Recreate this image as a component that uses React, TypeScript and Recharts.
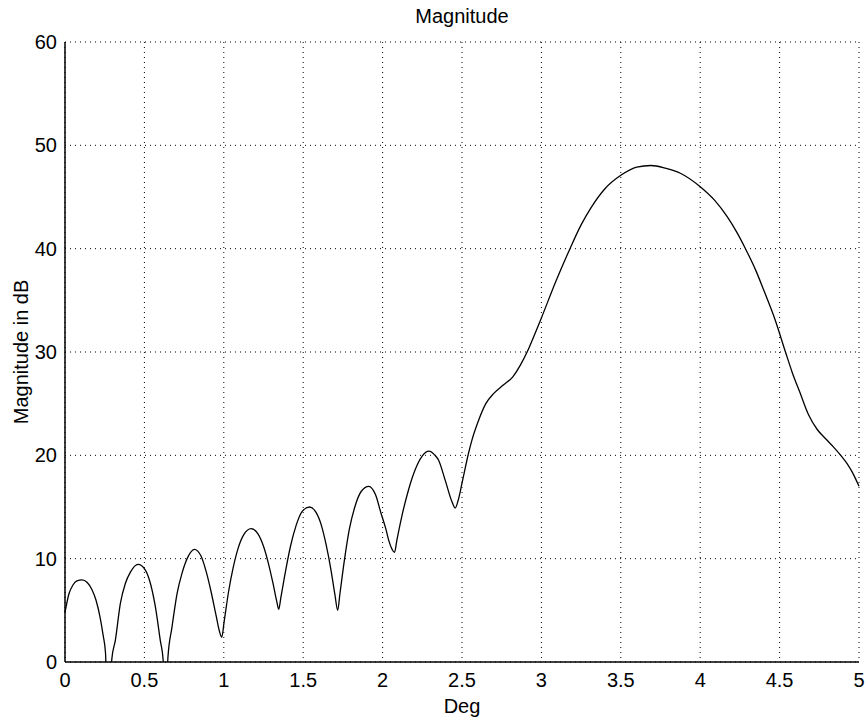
import { LineChart, Line, XAxis, YAxis, CartesianGrid, Label } from "recharts";

// angle in degrees
const degs = [
  0, 0.025, 0.05, 0.075, 0.107, 0.14, 0.17, 0.195, 0.22, 0.24, 0.255, 0.27,
  0.295, 0.317, 0.349, 0.38, 0.412, 0.46, 0.506, 0.538, 0.569, 0.6, 0.618, 0.632,
  0.648, 0.674, 0.706, 0.737, 0.775, 0.815, 0.855, 0.89, 0.92, 0.95, 0.972, 0.987,
  1.003, 1.03, 1.06, 1.09, 1.125, 1.172, 1.215, 1.25, 1.28, 1.31, 1.333, 1.346,
  1.36, 1.39, 1.42, 1.455, 1.495, 1.54, 1.58, 1.615, 1.645, 1.675, 1.7, 1.717,
  1.732, 1.76, 1.79, 1.825, 1.865, 1.913, 1.955, 1.99, 2.02, 2.04, 2.06, 2.075,
  2.09, 2.121, 2.163, 2.205, 2.248, 2.292, 2.33, 2.352, 2.394, 2.437, 2.457,
  2.475, 2.5, 2.541, 2.563, 2.6, 2.65, 2.7, 2.76, 2.82, 2.87, 2.91, 2.96, 3.0,
  3.09, 3.18, 3.25, 3.31, 3.4, 3.5, 3.6, 3.69, 3.78, 3.875, 4.0, 4.09, 4.17,
  4.23, 4.285, 4.35, 4.4, 4.47, 4.537, 4.58, 4.63, 4.68, 4.737, 4.79, 4.84,
  4.885, 4.925, 4.96, 5.0,
];

// magnitude in dB (nulls below 0 are clipped by the axis)
const magDb = [
  4.8, 6.6, 7.45, 7.85, 7.95, 7.7, 7.0, 6.0, 4.4, 2.6, 0.9, -6,
  0.3, 2.1, 5.7, 7.6, 8.7, 9.45, 8.9, 7.6, 5.35, 2.1, 0.2, -6,
  0.4, 3.4, 6.65, 8.6, 10.2, 10.9, 10.3, 8.7, 6.8, 4.6, 3.0, 2.4,
  4.0, 6.8, 9.2, 11.0, 12.3, 12.9, 12.4, 11.2, 9.6, 7.6, 5.9, 5.1,
  6.3, 8.9, 11.2, 13.2, 14.6, 15.0, 14.5, 13.2, 11.3, 8.9, 6.5, 5.0,
  6.7, 9.9, 12.8, 15.0, 16.5, 17.0, 16.2, 14.4, 12.9, 11.7, 10.9, 10.6,
  11.8, 14.1, 16.65, 18.6, 19.9, 20.4, 20.0, 19.55, 17.6, 15.5, 14.9,
  15.6, 17.3, 20.2, 21.5, 23.2, 25.0, 26.0, 26.8, 27.6, 28.8, 30.0, 31.8, 33.3,
  36.8, 40.0, 42.3, 43.9, 45.8, 47.1, 47.9, 48.05, 47.8, 47.3, 46.0, 44.7, 43.1,
  41.6, 40.0, 37.9, 36.0, 33.2, 30.0, 28.0, 26.0, 24.0, 22.5, 21.6, 20.8,
  20.0, 19.2, 18.3, 17.0,
];

const xTicks = [0, 0.5, 1, 1.5, 2, 2.5, 3, 3.5, 4, 4.5, 5];
const yTicks = [0, 10, 20, 30, 40, 50, 60];

const data = degs.map((d, i) => ({ deg: d, mag: magDb[i] }));

const font = "'Liberation Sans', Arial, Helvetica, sans-serif";
const tickStyle = { fontSize: 20, fill: "#000", fontFamily: font };

export default function App() {
  return (
    <div style={{ position: "absolute", left: 0, top: 0, width: 868, height: 721, background: "#fff", fontFamily: font }}>
      <div
        style={{
          position: "absolute",
          top: 6,
          left: 0,
          width: 924,
          textAlign: "center",
          fontSize: 20,
          lineHeight: "20px",
          color: "#000",
        }}
      >
        Magnitude
      </div>
      <LineChart width={868} height={721} data={data} margin={{ top: 42, right: 9, bottom: 0, left: 0 }}>
        <CartesianGrid stroke="#000" strokeDasharray="1 4" />
        <XAxis
          dataKey="deg"
          type="number"
          domain={[0, 5]}
          ticks={xTicks}
          height={59}
          tick={tickStyle}
          tickLine={false}
          tickMargin={5}
          axisLine={{ stroke: "#000", strokeWidth: 1.5 }}
        >
          <Label value="Deg" position="insideBottom" offset={8} style={{ fontSize: 20, fill: "#000", fontFamily: font }} />
        </XAxis>
        <XAxis
          xAxisId="top"
          orientation="top"
          type="number"
          domain={[0, 5]}
          height={0}
          tick={false}
          axisLine={{ stroke: "#000", strokeWidth: 1.5 }}
        />
        <YAxis
          type="number"
          domain={[0, 60]}
          ticks={yTicks}
          allowDataOverflow
          width={65}
          tick={tickStyle}
          tickLine={false}
          axisLine={{ stroke: "#000", strokeWidth: 1.5 }}
        >
          <Label
            value="Magnitude in dB"
            angle={-90}
            position="insideLeft"
            offset={21}
            style={{ fontSize: 20, fill: "#000", fontFamily: font, textAnchor: "middle" }}
          />
        </YAxis>
        <YAxis
          yAxisId="right"
          orientation="right"
          type="number"
          domain={[0, 60]}
          width={0}
          tick={false}
          axisLine={{ stroke: "#000", strokeWidth: 1.5 }}
        />
        <Line
          type="monotone"
          dataKey="mag"
          stroke="#000"
          strokeWidth={1.3}
          dot={false}
          activeDot={false}
          isAnimationActive={false}
        />
      </LineChart>
    </div>
  );
}
